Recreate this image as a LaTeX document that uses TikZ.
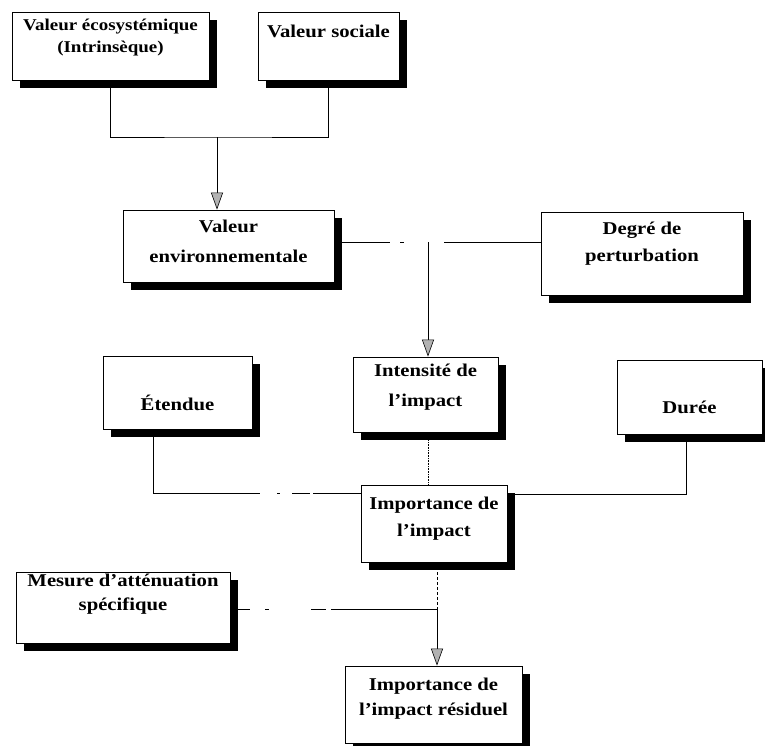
\documentclass[tikz,border=0pt]{standalone}
\usepackage{fontspec}
\setmainfont{Liberation Serif}[FakeStretch=1.15]
\usetikzlibrary{arrows.meta, positioning, shadows, calc}
\newcommand{\liftby}[1]{\rule[-#1]{0pt}{#1}}
\newcommand{\sinkby}[1]{\rule{0pt}{#1}}
\newcommand{\boxfont}[2]{\bfseries\fontsize{#1}{#2}\selectfont}

\begin{document}
\begin{tikzpicture}[x=1pt, y=-1pt,
    box/.style={draw=black, line width=0.8pt, fill=white, align=center,
                font=\boxfont{18}{27}, inner sep=2pt,
                drop shadow={shadow xshift=8pt, shadow yshift=-8pt,
                             fill=black, opacity=1}},
    link/.style={draw=black, line width=0.6pt},
    arr/.style={link, -{Triangle[open, length=17pt, width=12pt, fill=gray!60]}}
  ]
  \useasboundingbox (0,0) rectangle (765,745);
  % Top row
  \node[box, font=\boxfont{16.5}{22}, minimum width=197pt, minimum height=68pt]
    (eco) at (110.5,46) {Valeur écosystémique\\(Intrinsèque)\liftby{20pt}};
  \node[box, minimum width=141pt, minimum height=68pt] (soc) at (328.5,46)
    {Valeur sociale\liftby{30pt}};
  % Second row
  \node[box, font=\boxfont{18}{30}, minimum width=211pt, minimum height=72pt]
    (env) at (228.5,246) {Valeur\\environnementale\liftby{10pt}};
  \node[box, minimum width=202pt, minimum height=83pt] (deg) at (642,253.5)
    {Degré de\\perturbation\liftby{24pt}};
  % Third row
  \node[box, minimum width=149pt, minimum height=73pt] (eten) at (177.5,392.5)
    {\sinkby{36pt}Étendue};
  \node[box, font=\boxfont{18}{30}, minimum width=145pt, minimum height=75pt]
    (int) at (425.5,394.5) {Intensité de\\l'impact\liftby{18pt}};
  \node[box, minimum width=145pt, minimum height=74pt] (dur) at (689.5,397)
    {\sinkby{34pt}Durée};
  % Fourth row
  \node[box, minimum width=146pt, minimum height=77pt] (imp) at (434,523.5)
    {Importance de\\l'impact\liftby{14pt}};
  \node[box, font=\boxfont{18}{24}, minimum width=214pt, minimum height=71pt]
    (mes) at (123,607.5) {Mesure d'atténuation\\spécifique\liftby{30pt}};
  % Result
  \node[box, font=\boxfont{18}{25}, minimum width=177pt, minimum height=77pt]
    (res) at (433.5,704.5) {Importance de\\l'impact résiduel\liftby{16pt}};
  % Junction points
  \coordinate (jtop) at (217,137);
  \coordinate (jmid) at (428,242);
  \coordinate (jlow) at (437,609);
  \coordinate (jeten) at (153,493);
  \coordinate (jdur) at (686,494);
  % Connections
  \draw[link] (eco.south) |- (jtop) -| (soc.south);
  \draw[arr] (jtop) -- (jtop |- env.north);
  \draw[link, dash pattern=on 56pt off 10pt on 4pt off 40pt on 200pt]
    (env.east |- jmid) -- (deg.west |- jmid);
  \draw[arr] (jmid) -- (jmid |- int.north);
  \draw[link, densely dotted] (int.south -| jmid) -- (imp.north -| jmid);
  \draw[link, dash pattern=on 171pt off 17pt on 3pt off 12pt on 18pt off 3pt on 200pt]
    (jeten |- eten.south) -- (jeten) -- (imp.west |- jeten);
  \draw[link] (jdur |- dur.south) -- (jdur) -- (imp.east |- jdur);
  \draw[link, dash pattern=on 20pt off 15pt on 4pt off 42pt on 15pt off 5pt on 300pt]
    (mes.east |- jlow) -- (jlow);
  \draw[link, densely dashed] (jlow |- imp.south) -- (jlow);
  \draw[arr] (jlow) -- (jlow |- res.north);
\end{tikzpicture}
\end{document}
